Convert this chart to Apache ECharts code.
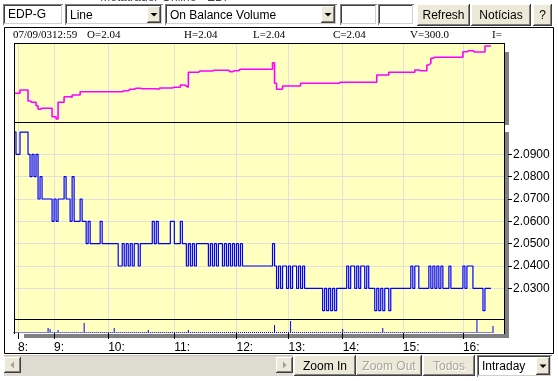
<!DOCTYPE html>
<html><head><meta charset="utf-8">
<script src="https://cdn.jsdelivr.net/npm/echarts@6/dist/echarts.min.js"></script>
<style>html,body{margin:0;padding:0;background:#fff}#c{width:558px;height:381px}</style>
</head><body><div id="c"></div>
<script>
// ---------- data ----------
const tradeCount = 246; // trade sequence positions on the x axis
const categories = Array.from({length: tradeCount}, (_, i) => String(i));
const hourIdx = [2, 20, 47, 80, 111, 137, 164, 194, 224];
const hourLabels = ['8:', '9:', '10:', '11:', '12:', '13:', '14:', '15:', '16:'];
const priceTicks = [2.03, 2.04, 2.05, 2.06, 2.07, 2.08, 2.09];

// On Balance Volume (thousand shares)
const obv = [
 7,7,7,20,20,20,20,-24,-29,-29,
 -29,-43,-57,-53,-53,-53,-53,-53,-53,-87,
 -87,-96,-29,-29,-29,-7,-7,-7,-9,0,
 0,0,0,13,13,13,13,13,13,13,
 13,13,13,13,13,13,13,13,13,13,
 13,13,13,13,17,17,17,23,23,23,
 27,27,27,25,25,25,25,25,25,25,
 25,23,28,28,28,28,28,28,28,31,
 31,31,31,40,40,36,31,91,91,91,
 91,91,96,96,96,96,96,96,96,99,
 99,99,99,99,99,99,99,93,93,97,
 97,97,103,103,103,103,103,103,103,103,
 103,103,103,103,103,103,103,103,103,129,
 47,23,23,23,36,36,36,36,36,36,
 36,36,36,47,47,47,47,47,47,47,
 47,47,47,47,47,47,47,47,47,47,
 47,47,51,51,51,51,51,51,51,51,
 51,51,51,51,51,51,51,51,51,51,
 51,80,80,80,80,80,80,91,91,91,
 91,91,91,91,91,91,91,91,91,91,
 100,100,97,97,97,97,120,127,147,151,
 151,151,151,151,151,151,151,151,151,151,
 151,151,151,151,173,173,177,177,177,172,
 172,172,172,172,172,196,196,196,196
];

// Last trade price
const price = [
 2.10,2.09,2.09,2.10,2.10,2.10,2.10,2.09,2.08,2.09,
 2.08,2.09,2.07,2.08,2.07,2.07,2.07,2.07,2.07,2.06,
 2.07,2.06,2.07,2.07,2.07,2.08,2.07,2.07,2.06,2.08,
 2.06,2.06,2.06,2.07,2.06,2.06,2.05,2.06,2.05,2.05,
 2.05,2.05,2.05,2.06,2.05,2.05,2.05,2.05,2.05,2.05,
 2.05,2.05,2.04,2.04,2.05,2.04,2.05,2.04,2.05,2.04,
 2.05,2.05,2.04,2.05,2.05,2.05,2.05,2.05,2.05,2.06,
 2.05,2.06,2.05,2.05,2.05,2.05,2.05,2.05,2.06,2.06,
 2.05,2.05,2.05,2.06,2.05,2.05,2.04,2.05,2.04,2.05,
 2.04,2.05,2.05,2.05,2.05,2.05,2.05,2.04,2.05,2.04,
 2.05,2.04,2.05,2.05,2.04,2.05,2.04,2.05,2.04,2.05,
 2.04,2.05,2.04,2.05,2.04,2.04,2.04,2.04,2.04,2.04,
 2.04,2.04,2.04,2.04,2.04,2.04,2.04,2.04,2.04,2.05,
 2.04,2.03,2.04,2.03,2.04,2.04,2.03,2.04,2.03,2.04,
 2.04,2.03,2.04,2.03,2.04,2.03,2.03,2.03,2.03,2.03,
 2.03,2.03,2.03,2.03,2.02,2.03,2.02,2.03,2.02,2.03,
 2.02,2.03,2.03,2.03,2.03,2.03,2.04,2.03,2.04,2.04,
 2.03,2.04,2.03,2.04,2.04,2.03,2.04,2.03,2.03,2.03,
 2.02,2.03,2.02,2.03,2.02,2.03,2.03,2.02,2.03,2.03,
 2.03,2.03,2.03,2.03,2.03,2.03,2.03,2.03,2.04,2.03,
 2.04,2.04,2.03,2.03,2.03,2.03,2.03,2.04,2.03,2.04,
 2.03,2.04,2.03,2.04,2.03,2.03,2.03,2.04,2.03,2.03,
 2.03,2.03,2.03,2.03,2.04,2.03,2.04,2.04,2.04,2.03,
 2.03,2.03,2.03,2.03,2.02,2.03,2.03,2.03,2.03
];

// Volume per trade (thousand shares)
const volume = [
 1,1,1,1,1,1,1,1,1,1, 1,1,1,1,1,1,1,5,4,1,
 1,1,3,1,1,1,1,1,1,1, 1,1,1,1,1,10,1,1,1,1,
 1,1,1,1,1,1,1,1,1,1, 5,1,1,1,1,1,1,1,1,1,
 1,1,1,1,1,1,1,3,1,1, 1,1,1,1,1,1,1,1,1,1,
 1,1,1,1,1,1,1,3,1,1, 1,1,1,1,1,1,1,1,1,1,
 1,1,1,1,1,1,1,1,1,1, 1,1,1,1,1,1,1,1,1,1,
 1,1,1,1,1,1,1,1,1,1, 8,1,1,1,1,1,1,1,12,1,
 1,1,1,1,1,1,1,1,1,1, 1,1,1,1,1,1,1,1,1,1,
 1,1,1,1,4,1,1,1,1,1, 1,1,1,1,1,1,1,1,1,1,
 1,1,1,1,5,1,1,1,1,1, 1,1,1,1,1,1,1,1,1,1,
 1,1,1,1,1,1,1,1,1,1, 1,1,1,1,1,1,1,1,1,1,
 1,1,1,1,1,1,1,1,1,1, 1,14,1,1,1,1,1,1,1,7
];

const infoLabels = ['07/09/0312:59', 'O=2.04', 'H=2.04', 'L=2.04', 'C=2.04', 'V=300.0', 'I='];
const symbolText = 'EDP-G';
const chartTypeText = 'Line';
const indicatorText = 'On Balance Volume';
const periodText = 'Intraday';

// ---------- chrome ----------
const SANS = '"Liberation Sans", Arial, sans-serif';
const SERIF = '"Liberation Serif", "Times New Roman", serif';
const FACE = '#ece9d8';
const g = [];
function line(x1, y1, x2, y2, c, z) { g.push({type: 'line', z: z || 0, silent: true, shape: {x1, y1, x2, y2}, style: {stroke: c, lineWidth: 1}}); }
function rect(x, y, w, h, fill, z) { g.push({type: 'rect', z: z || 0, silent: true, shape: {x, y, width: w, height: h}, style: {fill}}); }
function text(t, x, y, opt) {
  opt = opt || {};
  g.push({type: 'text', z: opt.z || 1, silent: true, x, y,
    style: {text: t, fill: opt.fill || '#000', fontSize: opt.fontSize || 12, fontFamily: opt.fontFamily || SANS,
            align: opt.align || 'left', verticalAlign: 'middle'}});
}
function sunken(x, y, w, h) {
  rect(x, y, w, h, '#fff');
  line(x, y + .5, x + w, y + .5, '#808080'); line(x + .5, y, x + .5, y + h, '#808080');
  line(x + 1, y + 1.5, x + w - 1, y + 1.5, '#404040'); line(x + 1.5, y + 1, x + 1.5, y + h - 1, '#404040');
  line(x + 1, y + h - 1.5, x + w - 1, y + h - 1.5, '#d4d0c8'); line(x + w - 1.5, y + 1, x + w - 1.5, y + h - 1, '#d4d0c8');
}
function raised(x, y, w, h, face) {
  rect(x, y, w, h, face || FACE);
  line(x, y + .5, x + w - 1, y + .5, '#fff'); line(x + .5, y, x + .5, y + h - 1, '#fff');
  line(x, y + h - .5, x + w, y + h - .5, '#404040'); line(x + w - .5, y, x + w - .5, y + h, '#404040');
  line(x + 1, y + h - 1.5, x + w - 1, y + h - 1.5, '#808080'); line(x + w - 1.5, y + 1, x + w - 1.5, y + h - 1, '#808080');
}
function poly(pts, fill) { g.push({type: 'polygon', z: 1, silent: true, shape: {points: pts}, style: {fill}}); }
function combo(x, y, w, h, label) {
  sunken(x, y, w, h);
  raised(x + w - 16, y + 2, 14, h - 4);
  const cx = x + w - 9, cy = y + h / 2;
  poly([[cx - 3.5, cy - 1.5], [cx + 3.5, cy - 1.5], [cx, cy + 2]], '#000');
  text(label, x + 5, y + h / 2 + 1);
}
function button(x, y, w, h, label, enabled) {
  raised(x, y, w, h);
  if (!enabled) text(label, x + w / 2 + 1, y + h / 2 + 2, {align: 'center', fill: '#fff'});
  text(label, x + w / 2, y + h / 2 + 1, {align: 'center', fill: enabled ? '#000' : '#a8a498'});
}

// window title fragment
text('Metatrader Online - EDP', 166, -2, {align: 'center', fill: '#444'});
// toolbar
sunken(3, 4, 60, 21); text(symbolText, 8, 15);
combo(65, 4, 98, 21, chartTypeText);
combo(165, 4, 172, 21, indicatorText);
sunken(340, 4, 37, 21);
sunken(378, 4, 36, 21);
button(417, 4, 53, 22, 'Refresh', true);
button(471, 4, 60, 22, 'Notícias', true);
button(533, 4, 19, 22, '?', true);
// frame
g.push({type: 'rect', z: 100, silent: true, shape: {x: 4.5, y: 27.5, width: 549, height: 326}, style: {fill: 'none', stroke: '#000', lineWidth: 1}});
// info line
const infoX = [13, 87, 184, 253, 333, 410, 492];
infoLabels.forEach((t, k) => text(t, infoX[k], 35, {fontFamily: SERIF, fontSize: 11}));
// shadows
rect(505, 52, 4, 73, '#808080');
rect(505, 132, 4, 206, '#808080');
rect(24, 334, 485, 4, '#808080');
// panel borders
line(14, 43.5, 505, 43.5, '#000', 100);
line(14, 122.5, 505, 122.5, '#000', 100);
line(14, 319.5, 505, 319.5, '#000', 100);
line(14.5, 43, 14.5, 334, '#000', 100);
line(504.5, 43, 504.5, 334, '#000', 100);
// bottom controls
rect(4, 355, 289, 21, '#dedbd0');
line(4, 355.5, 293, 355.5, '#c8c4b8');
raised(4, 357, 17, 16);
poly([[14, 361.5], [14, 368.5], [10.5, 365]], '#a0a0a0');
raised(276, 357, 17, 16);
poly([[283, 361.5], [283, 368.5], [286.5, 365]], '#a0a0a0');
button(294, 355, 62, 21, 'Zoom In', true);
button(356, 355, 66, 21, 'Zoom Out', false);
button(423, 355, 52, 21, 'Todos', false);
combo(477, 355, 75, 22, periodText);

// ---------- chart ----------
const isHour = (i) => hourIdx.indexOf(i) >= 0;
const chart = echarts.init(document.getElementById('c'), null, {renderer: 'canvas', width: 558, height: 381});
const xAxes = [0, 1, 2].map(k => ({
  gridIndex: k, type: 'category', data: categories, boundaryGap: false,
  axisLine: {show: false},
  axisTick: {show: k === 2, interval: isHour, length: 6, lineStyle: {color: '#000', width: 1}},
  axisLabel: {show: k === 2, interval: isHour, formatter: (v, i) => hourLabels[hourIdx.indexOf(i)] || '',
              align: 'left', margin: 9, color: '#000', fontSize: 12, fontFamily: SANS},
  splitLine: {show: true, interval: isHour, lineStyle: {color: '#e0e0e0', width: 1}}
}));
chart.setOption({
  animation: false,
  backgroundColor: '#fff',
  textStyle: {fontFamily: SANS},
  grid: [
    {left: 14, top: 43, width: 491, height: 79, show: true, backgroundColor: '#ffffc0', borderWidth: 0, outerBoundsMode: 'none'},
    {left: 14, top: 122, width: 491, height: 197, show: true, backgroundColor: '#ffffc0', borderWidth: 0, outerBoundsMode: 'none'},
    {left: 14, top: 319, width: 491, height: 14, show: true, backgroundColor: '#ffffc0', borderWidth: 0, outerBoundsMode: 'none'}
  ],
  xAxis: xAxes,
  yAxis: [
    {gridIndex: 0, type: 'value', min: -108, max: 208, show: false},
    {gridIndex: 1, type: 'value', position: 'right', min: 2.01625, max: 2.1045, offset: 3,
     axisLine: {show: false},
     axisTick: {show: true, length: 4, customValues: priceTicks, lineStyle: {color: '#000'}},
     axisLabel: {customValues: priceTicks, formatter: v => v.toFixed(4), color: '#000', fontSize: 12, margin: 5, fontFamily: SANS},
     splitLine: {show: true, lineStyle: {color: '#e0e0e0', width: 1}}},
    {gridIndex: 2, type: 'value', min: 0, max: 14, show: false}
  ],
  series: [
    {type: 'line', xAxisIndex: 0, yAxisIndex: 0, data: obv, step: 'end', showSymbol: false, silent: true,
     lineStyle: {color: '#ff00ff', width: 1.6}, itemStyle: {color: '#ff00ff'}},
    {type: 'line', xAxisIndex: 1, yAxisIndex: 1, data: price, step: 'end', showSymbol: false, silent: true, clip: false,
     lineStyle: {color: '#0000ff', width: 1.2}, itemStyle: {color: '#0000ff'}},
    {type: 'bar', xAxisIndex: 2, yAxisIndex: 2, data: volume, barWidth: 1, silent: true,
     itemStyle: {color: '#0000ff'}}
  ],
  graphic: {elements: g}
});
</script>
</body></html>
